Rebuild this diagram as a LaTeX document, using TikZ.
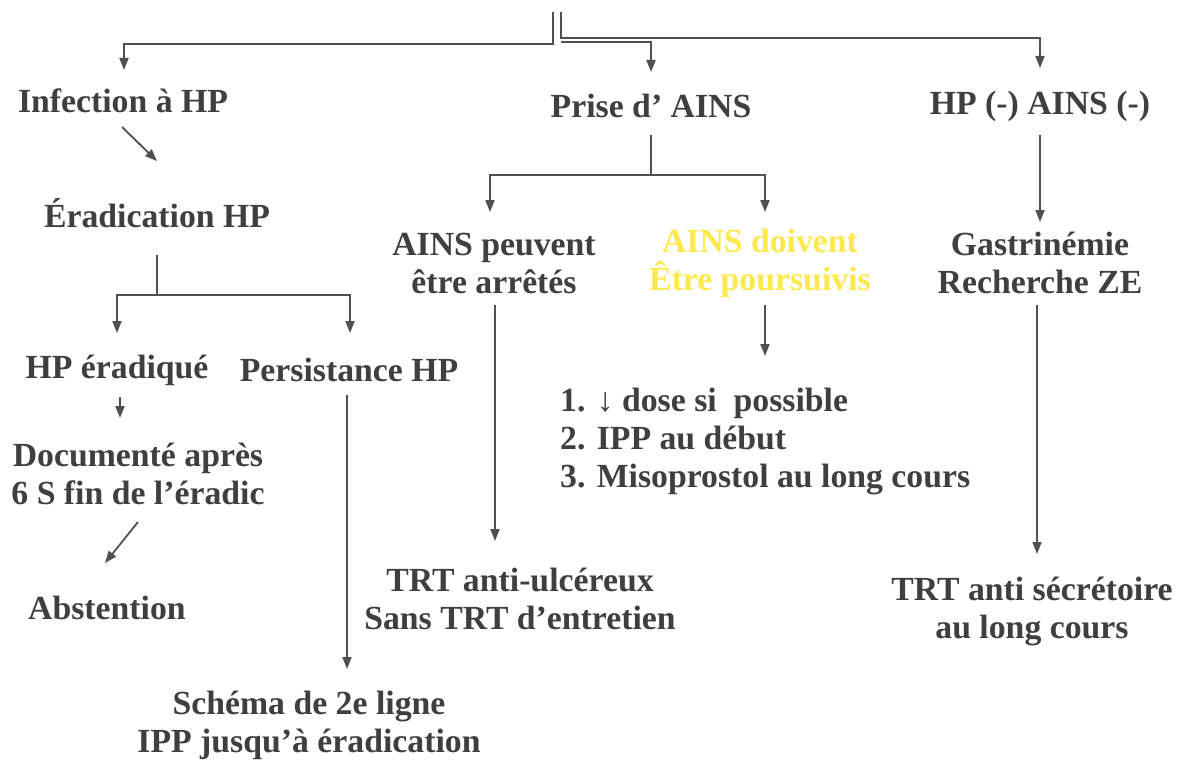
\documentclass[tikz,border=0pt]{standalone}
\usepackage{fontspec}
\setmainfont{Liberation Serif}
\usetikzlibrary{arrows.meta,calc}
\definecolor{txtc}{HTML}{3F3F3F}
\definecolor{linec}{HTML}{505050}
\definecolor{yel}{HTML}{FDE84E}
\tikzset{
  txt/.style={font=\fontsize{33.75}{38}\selectfont\bfseries, text=txtc, align=center, inner sep=0pt},
  ln/.style={draw=linec, line width=1.8pt},
  conn/.style={ln, -{Triangle[length=12pt,width=9pt]}},
}
\begin{document}
\begin{tikzpicture}[x=1pt,y=-1pt]
\useasboundingbox[fill=white] (0,0) rectangle (1177,760);
% nodes
\node[txt] (inf) at (123,101) {Infection à HP};
\node[txt] (erad) at (157,213) {Éradication HP};
\node[txt] (hpe) at (117,370) {HP éradiqué};
\node[txt] (pers) at (349,370) {Persistance HP};
\node[txt] (doc) at (138,474) {Documenté après\\6 S fin de l’éradic};
\node[txt] (abst) at (107,608) {Abstention};
\node[txt] (sch) at (309,725) {Schéma de 2e ligne\\IPP jusqu’à éradication};
\node[txt] (prise) at (651,106) {Prise d’ AINS};
\node[txt] (peuv) at (494,263) {AINS peuvent\\être arrêtés};
\node[txt, text=yel] (doiv) at (760,263) {AINS doivent\\Être poursuivis};
\node[txt, align=left, anchor=west] (list) at (560,442) {1. ↓ dose si\ \ possible\\2. IPP au début\\3. Misoprostol au long cours};
\node[txt] (trt1) at (520,599) {TRT anti-ulcéreux\\Sans TRT d’entretien};
\node[txt] (hpm) at (1040,106) {HP (-) AINS (-)};
\node[txt] (gast) at (1040,263) {Gastrinémie\\Recherche ZE};
\node[txt] (trt2) at (1032,611) {TRT anti sécrétoire\\au long cours};
% top connectors
\coordinate (t1) at (553,12);
\coordinate (t2) at (561,12);
\coordinate (i1) at (124,70);
\coordinate (p1) at (651,72);
\coordinate (h1) at (1040,68);
\draw[conn] (t1) -- (553,44) -| (i1);
\draw[conn] (t2) -- (561,38) -| (h1);
\draw[conn] (561,42) -| (p1);
% left branch
\coordinate (ie1) at (122,127); \coordinate (ie2) at (157,161);
\draw[conn] (ie1) -- (ie2);
\coordinate (e1) at (157,255); \coordinate (e2) at (157,295);
\coordinate (hpa) at (117,333); \coordinate (pea) at (350,333);
\draw[ln] (e1) -- (e2);
\draw[conn] (e2) -| (hpa);
\draw[conn] (e2) -| (pea);
\coordinate (hd1) at (120,397); \coordinate (hd2) at (120,418);
\draw[conn] (hd1) -- (hd2);
\coordinate (da1) at (138,522); \coordinate (da2) at (105,563);
\draw[conn] (da1) -- (da2);
\coordinate (ps1) at (347,395); \coordinate (ps2) at (347,669);
\draw[conn] (ps1) -- (ps2);
% middle branch
\coordinate (m1) at (651,135); \coordinate (m2) at (651,175);
\coordinate (pva) at (490,212); \coordinate (dva) at (765,212);
\draw[ln] (m1) -- (m2);
\draw[conn] (m2) -| (pva);
\draw[conn] (m2) -| (dva);
\coordinate (dl1) at (765,305); \coordinate (dl2) at (765,356);
\draw[conn] (dl1) -- (dl2);
\coordinate (pt1) at (495,305); \coordinate (pt2) at (495,541);
\draw[conn] (pt1) -- (pt2);
% right branch
\coordinate (r1) at (1040,135); \coordinate (r2) at (1040,222);
\draw[conn] (r1) -- (r2);
\coordinate (g1) at (1037,305); \coordinate (g2) at (1037,554);
\draw[conn] (g1) -- (g2);
\end{tikzpicture}
\end{document}
